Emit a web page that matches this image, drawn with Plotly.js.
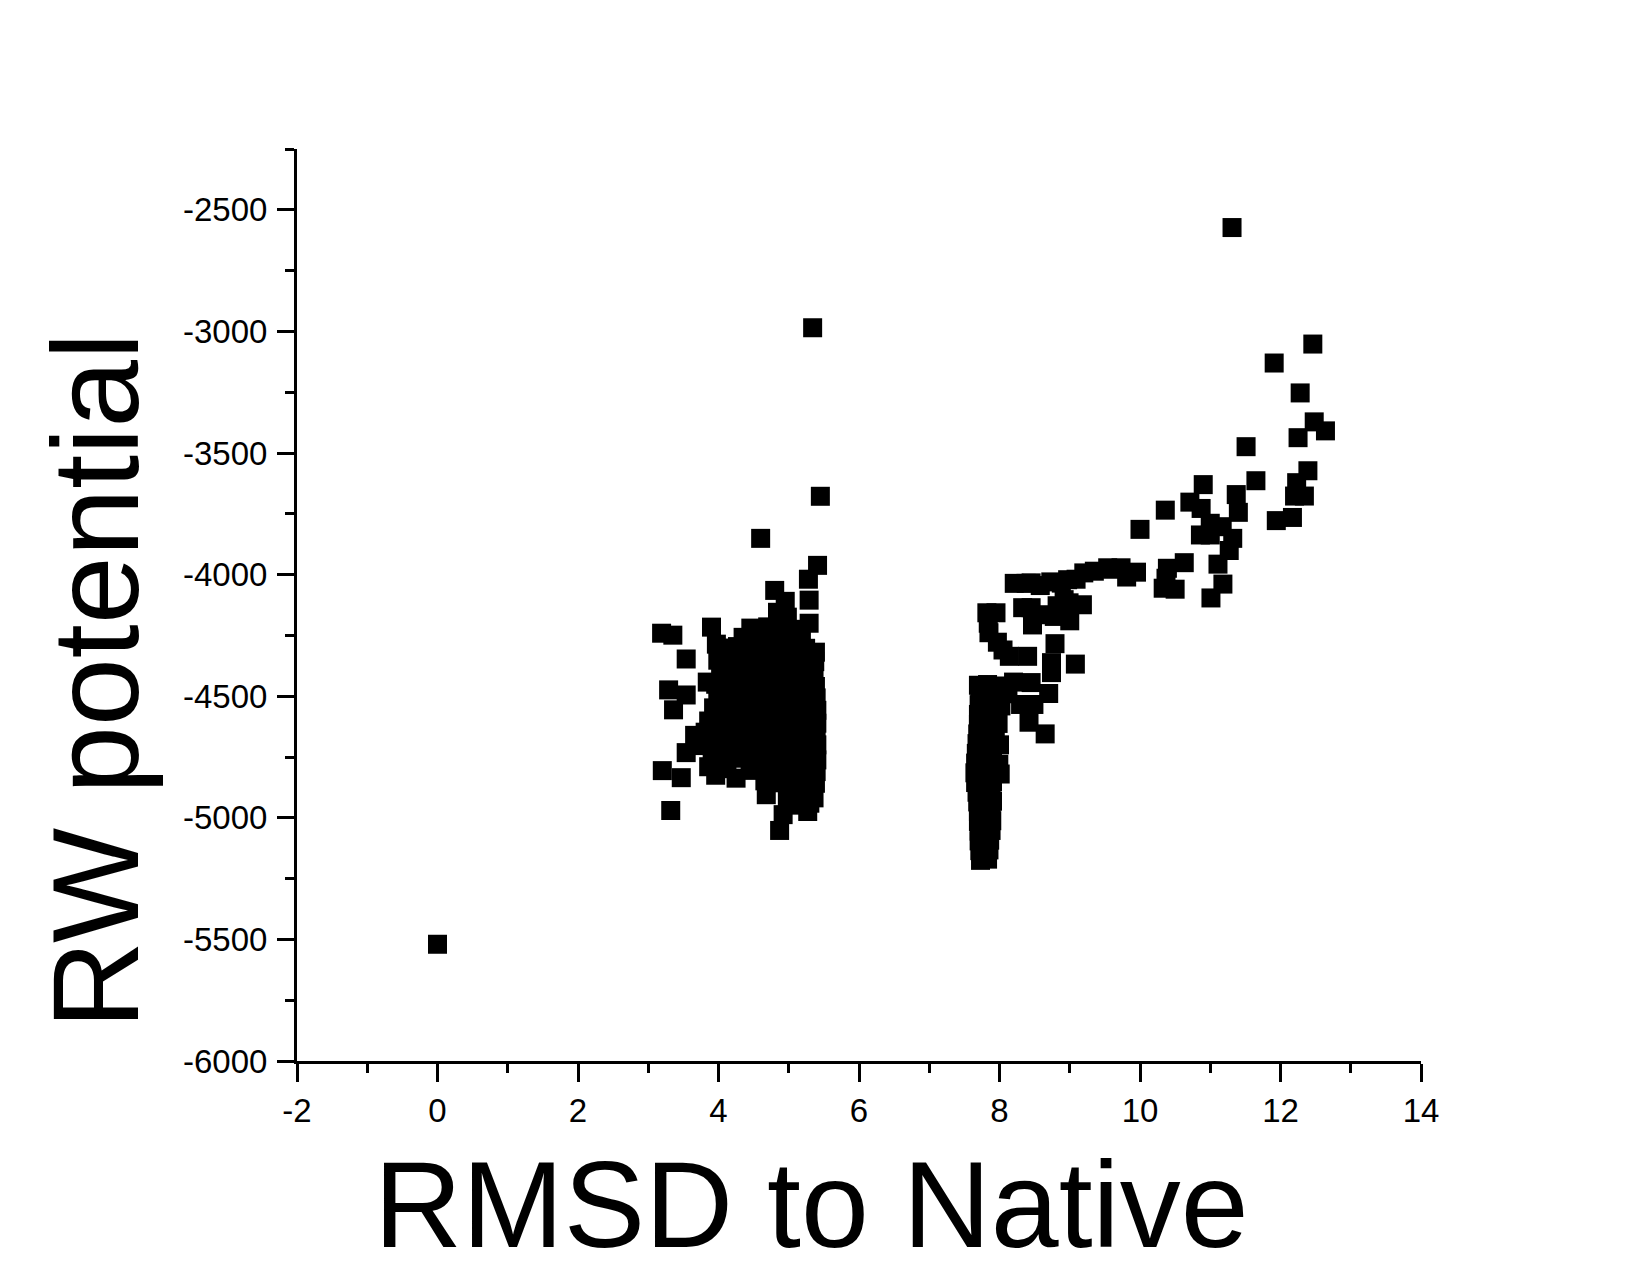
<!DOCTYPE html>
<html>
<head>
<meta charset="utf-8">
<script src="https://cdn.plot.ly/plotly-3.0.1.min.js"></script>
<style>html,body{margin:0;padding:0;background:#fff;}#chart{width:1650px;height:1275px;}</style>
</head>
<body>
<div id="chart"></div>
<script>
// ---- data (RMSD to native, RW potential) ----
const nativeX = [0.0];
const nativeY = [-5520];

const clusterAX = [5.34,5.45,4.60,5.41,5.28,4.80,5.29,4.95,4.84,5.29,3.90,4.46,3.19,3.35,3.54,3.29,3.54,3.36,3.84,3.66,3.54,3.20,3.47,3.32,3.86,3.96,4.25,4.68,4.92,4.87,5.27,5.38,5.31,3.97,4.15,4.46,
  4.98,5.10,4.70,4.85,
  4.35,4.58,4.76,4.99,5.18,
  4.06,4.27,4.47,4.66,4.86,5.06,5.24,
  3.99,4.19,4.39,4.61,4.81,5.01,5.21,5.37,
  4.03,4.23,4.43,4.63,4.83,5.03,5.19,5.36,
  3.96,4.16,4.36,4.56,4.77,4.97,5.18,5.38,
  3.99,4.21,4.41,4.61,4.81,5.01,5.22,5.39,
  3.93,4.13,4.33,4.53,4.73,4.93,5.13,5.33,5.40,
  3.86,4.06,4.28,4.48,4.68,4.88,5.09,5.29,5.40,
  3.81,4.01,4.21,4.43,4.63,4.84,5.04,5.26,5.39,
  3.79,3.99,4.19,4.39,4.59,4.81,5.01,5.23,5.40,
  3.91,4.11,4.31,4.51,4.73,4.94,5.14,5.33,5.40,
  4.12,4.45,4.63,4.85,5.06,5.26,5.39,
  4.66,4.86,5.06,5.25,5.38,
  4.98,5.18,5.36,
  5.10,5.30];
const clusterAY = [-2985,-3678,-3851,-3962,-4019,-4065,-4105,-4110,-4155,-4200,-4216,-4220,-4241,-4249,-4347,-4474,-4495,-4556,-4442,-4661,-4732,-4806,-4835,-4970,-4790,-4825,-4837,-4905,-4987,-5052,-4974,-4319,-4400,-4286,-4329,-4262,
  -4175,-4225,-4215,-4228,
  -4258,-4266,-4255,-4262,-4270,
  -4302,-4296,-4305,-4298,-4307,-4295,-4303,
  -4352,-4345,-4356,-4349,-4343,-4355,-4348,-4358,
  -4398,-4405,-4396,-4402,-4409,-4397,-4404,-4412,
  -4451,-4446,-4455,-4449,-4458,-4447,-4453,-4460,
  -4503,-4497,-4506,-4499,-4494,-4505,-4498,-4507,
  -4548,-4555,-4546,-4553,-4547,-4556,-4549,-4545,-4558,
  -4602,-4596,-4605,-4598,-4604,-4597,-4606,-4599,-4611,
  -4648,-4655,-4645,-4652,-4657,-4646,-4653,-4649,-4659,
  -4703,-4697,-4706,-4699,-4704,-4695,-4702,-4708,-4700,
  -4752,-4746,-4755,-4748,-4757,-4749,-4744,-4753,-4762,
  -4798,-4805,-4795,-4802,-4807,-4796,-4810,
  -4848,-4856,-4851,-4845,-4858,
  -4915,-4905,-4918,
  -4948,-4940];

const clusterBX = [8.21,8.38,8.45,8.58,8.73,8.88,8.97,9.09,9.20,9.35,9.54,9.61,9.73,9.81,9.95,
  7.82,7.95,7.84,7.85,7.97,8.05,8.33,8.45,8.62,8.82,8.99,9.18,8.92,9.00,8.78,8.47,8.79,8.14,8.40,8.74,8.74,9.08,
  8.20,8.45,8.12,8.70,8.30,8.49,8.42,8.65,
  7.70,7.83,7.95,
  7.72,7.85,7.97,
  7.71,7.84,7.98,8.02,
  7.70,7.83,7.96,
  7.70,7.82,7.98,
  7.69,7.80,7.94,
  7.68,7.80,7.92,8.00,
  7.67,7.79,7.90,
  7.66,7.78,7.90,7.99,
  7.65,7.77,7.89,8.01,
  7.66,7.78,7.90,
  7.68,7.80,7.88,
  7.69,7.81,7.90,
  7.70,7.82,7.88,
  7.70,7.82,7.89,
  7.71,7.83,7.88,
  7.71,7.82,7.86,
  7.72,7.82,7.85,
  7.73,7.83];
const clusterBY = [-4036,-4036,-4034,-4045,-4030,-4035,-4021,-4019,-3993,-3986,-3972,-3978,-3972,-4010,-3990,
  -4157,-4157,-4200,-4239,-4278,-4310,-4136,-4136,-4165,-4128,-4116,-4124,-4103,-4190,-4172,-4207,-4284,-4336,-4336,-4362,-4403,-4368,
  -4442,-4444,-4490,-4489,-4534,-4534,-4607,-4655,
  -4455,-4452,-4458,
  -4495,-4498,-4492,
  -4535,-4538,-4532,-4540,
  -4575,-4578,-4572,
  -4615,-4618,-4612,
  -4655,-4658,-4652,
  -4695,-4698,-4692,-4700,
  -4735,-4738,-4732,
  -4775,-4778,-4772,-4780,
  -4815,-4818,-4812,-4820,
  -4855,-4858,-4852,
  -4895,-4898,-4892,
  -4935,-4938,-4932,
  -4975,-4978,-4972,
  -5015,-5018,-5012,
  -5055,-5058,-5052,
  -5095,-5098,-5092,
  -5135,-5138,-5132,
  -5175,-5170];

const clusterCX = [11.31,12.46,11.91,12.28,12.48,12.64,12.25,11.51,12.39,11.65,10.90,12.23,11.37,12.20,12.34,10.71,10.87,10.36,11.40,11.94,12.17,10.00,11.00,11.17,10.86,11.00,11.32,11.27,11.11,10.39,10.63,10.37,10.33,10.50,11.18,11.01];
const clusterCY = [-2573,-3052,-3130,-3253,-3372,-3409,-3437,-3474,-3573,-3614,-3630,-3622,-3671,-3677,-3677,-3702,-3728,-3735,-3744,-3778,-3765,-3814,-3789,-3803,-3837,-3837,-3851,-3901,-3957,-3974,-3951,-4015,-4056,-4060,-4039,-4096];

const xTickVals = [-2,0,2,4,6,8,10,12,14];
const xTickText = ["-2","0","2","4","6","8","10","12","14"];
const yTickVals = [-6000,-5500,-5000,-4500,-4000,-3500,-3000,-2500];
const yTickText = ["-6000","-5500","-5000","-4500","-4000","-3500","-3000","-2500"];
const xMinorVals = [-1,1,3,5,7,9,11,13];
const yMinorVals = [-5750,-5250,-4750,-4250,-3750,-3250,-2750,-2250];

const xTitle = "RMSD to Native";
const yTitle = "RW potential";

// ---- chart ----
const FONT = "Liberation Sans, Arial, Helvetica, sans-serif";
const mk = {symbol: "square", size: 19, color: "#000000", line: {width: 0}};
const traces = [
  {x: nativeX, y: nativeY},
  {x: clusterAX, y: clusterAY},
  {x: clusterBX, y: clusterBY},
  {x: clusterCX, y: clusterCY}
].map(t => Object.assign(t, {type: "scatter", mode: "markers", marker: mk, showlegend: false, hoverinfo: "x+y"}));

const axisCommon = {
  showgrid: false, zeroline: false, showline: true, linecolor: "#000", linewidth: 3,
  ticks: "outside", tickwidth: 3, tickcolor: "#000",
  tickmode: "array", tickfont: {family: FONT, size: 33, color: "#000"},
  mirror: false
};

const layout = {
  width: 1650, height: 1275,
  paper_bgcolor: "#ffffff", plot_bgcolor: "#ffffff",
  margin: {l: 297, r: 229, t: 149, b: 214, pad: 0},
  font: {family: FONT, color: "#000"},
  showlegend: false,
  xaxis: Object.assign({}, axisCommon, {
    range: [-2, 14], tickvals: xTickVals, ticktext: xTickText, ticklen: 18,
    minor: {tickvals: xMinorVals, ticks: "outside", ticklen: 9, tickwidth: 3, tickcolor: "#000", showgrid: false}
  }),
  yaxis: Object.assign({}, axisCommon, {
    range: [-6000, -2250], tickvals: yTickVals, ticktext: yTickText, ticklen: 17, ticklabelstandoff: 3,
    minor: {tickvals: yMinorVals, ticks: "outside", ticklen: 9, tickwidth: 3, tickcolor: "#000", showgrid: false}
  }),
  annotations: [
    {text: xTitle, xref: "paper", yref: "paper", x: 0.4575, y: -0.158, xanchor: "center", yanchor: "middle",
     showarrow: false, font: {family: FONT, size: 122, color: "#000"}},
    {text: yTitle, xref: "paper", yref: "paper", x: -0.1784, y: 0.4173, xanchor: "center", yanchor: "middle",
     textangle: -90, showarrow: false, font: {family: FONT, size: 122, color: "#000"}}
  ]
};

Plotly.newPlot("chart", traces, layout, {displayModeBar: false, staticPlot: true});
</script>
</body>
</html>
